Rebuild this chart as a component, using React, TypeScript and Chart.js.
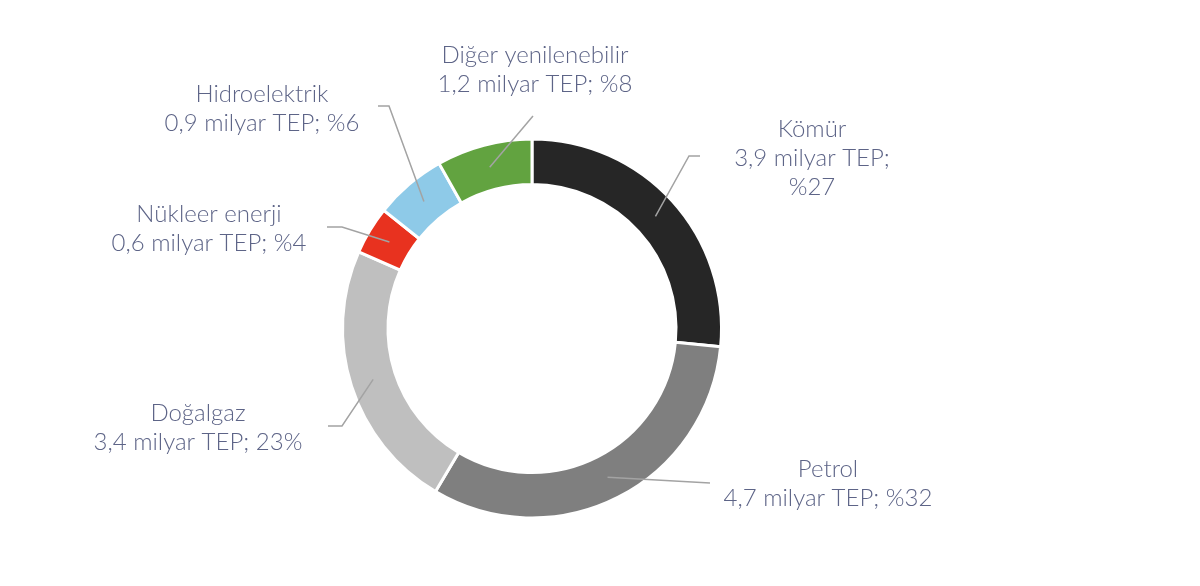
import React, { useEffect, useRef } from "react";
import { Chart, registerables } from "chart.js";

Chart.register(...registerables);

// ---- data ----
const categories = ["Kömür", "Petrol", "Doğalgaz", "Nükleer enerji", "Hidroelektrik", "Diğer yenilenebilir"];
const values = [3.9, 4.7, 3.4, 0.6, 0.9, 1.2];
const shareLabels = ["%27", "%32", "23%", "%4", "%6", "%8"];
const unitLabel = "milyar TEP";
const colors = ["#262626", "#7f7f7f", "#bfbfbf", "#e8321f", "#8ecae8", "#62a340"];

// ---- label layout (positions only) ----
const labelLayout = [
  { x: 812, y: 137, wrap: true, path: [[689, 156], [700, 156]] },
  { x: 828, y: 477, wrap: false, path: [[710, 483]] },
  { x: 198, y: 421, wrap: false, path: [[342, 426], [328, 426]] },
  { x: 209, y: 221.5, wrap: false, path: [[342, 227], [327, 227]] },
  { x: 262, y: 101.5, wrap: false, path: [[389, 106], [378, 106]] },
  { x: 535, y: 63, wrap: false, path: [[533, 116]] },
];

const fmt = (v: number) => v.toFixed(1).replace(".", ",");

const labelPlugin = {
  id: "leaderLabels",
  afterDatasetsDraw(chart: any) {
    const ctx = chart.ctx;
    const meta = chart.getDatasetMeta(0);
    ctx.save();
    meta.data.forEach((arc: any, i: number) => {
      const p = arc.getProps(["x", "y", "startAngle", "endAngle", "innerRadius", "outerRadius"], true);
      const a = (p.startAngle + p.endAngle) / 2;
      const r = (p.innerRadius + p.outerRadius) / 2;
      const sx = p.x + r * Math.cos(a);
      const sy = p.y + r * Math.sin(a);
      const lay = labelLayout[i];
      ctx.beginPath();
      ctx.moveTo(sx, sy);
      lay.path.forEach(([px, py]) => ctx.lineTo(px, py));
      ctx.strokeStyle = "#a3a3a3";
      ctx.lineWidth = 1.5;
      ctx.stroke();

      const lines = [categories[i]];
      const valText = fmt(values[i]) + " " + unitLabel + ";";
      if (lay.wrap) {
        lines.push(valText, shareLabels[i]);
      } else {
        lines.push(valText + " " + shareLabels[i]);
      }
      ctx.fillStyle = "#5d6487";
      ctx.font = "300 24px Lato, 'Open Sans', sans-serif";
      ctx.textAlign = "center";
      ctx.textBaseline = "alphabetic";
      lines.forEach((t, k) => ctx.fillText(t, lay.x, lay.y + k * 29));
    });
    ctx.restore();
  },
};

export default function App() {
  const ref = useRef<HTMLCanvasElement | null>(null);
  useEffect(() => {
    if (!ref.current) return;
    const chart = new Chart(ref.current, {
      type: "doughnut",
      data: {
        labels: categories,
        datasets: [
          {
            data: values,
            backgroundColor: colors,
            borderColor: "#ffffff",
            borderWidth: 3,
            hoverOffset: 0,
          },
        ],
      },
      options: {
        responsive: false,
        animation: false,
        cutout: "76%",
        layout: { padding: { left: 341, right: 477, top: 137, bottom: 66 } },
        plugins: { legend: { display: false }, tooltip: { enabled: false } },
      },
      plugins: [labelPlugin],
    });
    return () => chart.destroy();
  }, []);
  return (
    <div style={{ position: "fixed", left: 0, top: 0, width: 1200, height: 586, background: "#fff" }}>
      <canvas ref={ref} width={1200} height={586} />
    </div>
  );
}
